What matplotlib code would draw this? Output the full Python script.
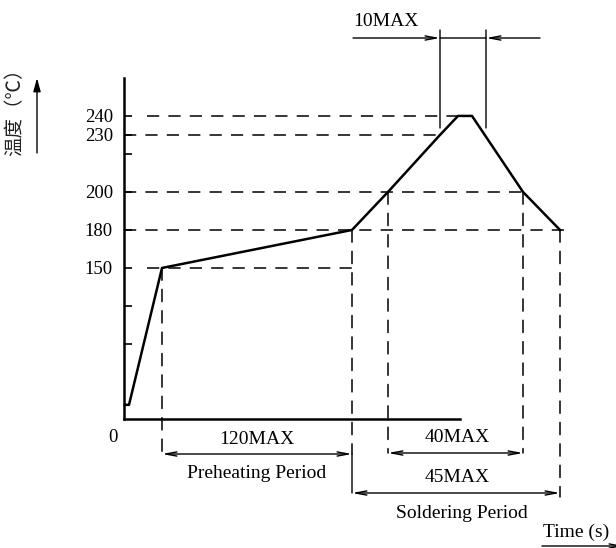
import numpy as np
import matplotlib.pyplot as plt

plt.rcParams['font.family'] = ['Liberation Serif', 'DejaVu Serif']

# reflow profile, x is schematic time (not to scale), y in deg C
time_pos = [1, 5, 38, 228, 264, 316, 334, 348, 399, 436]
temp = [17, 17, 150, 180, 200, 230, 240, 240, 200, 180]

major_ticks = [150, 180, 200, 230, 240]
minor_ticks = [90, 120, 220]

# dashed guide lines: (temperature, x start, x end)
h_guides = [(240, 23, 334), (230, 0, 316), (200, 0, 399), (180, 0, 446), (150, 23, 228)]
# dashed drop lines: (x, temperature, bottom in axes px)
v_guides = [(38, 150, -35), (228, 180, -35), (264, 200, -34), (399, 200, -34), (436, 180, -78)]

# temperature axis is drawn out of scale -> piecewise mapping
scale_t = [0, 90, 180, 400]
scale_h = [0, 75, 189, 607]


def fwd(t):
    return np.interp(t, scale_t, scale_h)


def inv(h):
    return np.interp(h, scale_h, scale_t)


fig = plt.figure(figsize=(6.16, 5.48), dpi=100)
ax = fig.add_axes([124 / 616, 129 / 548, 492 / 616, 419 / 548])
ax.set_yscale('function', functions=(fwd, inv))
ax.set_xlim(0, 492)
ax.set_ylim(0, 301)
ax.patch.set_visible(False)

for s in ['top', 'right']:
    ax.spines[s].set_visible(False)
ax.spines['left'].set_bounds(0, 260)
ax.spines['bottom'].set_bounds(0, 336)
for s in ['left', 'bottom']:
    ax.spines[s].set_linewidth(1.8)

ax.set_xticks([])
ax.set_yticks(major_ticks)
ax.set_yticks(minor_ticks, minor=True)
ax.set_yticklabels([str(v) for v in major_ticks])
ax.tick_params(axis='y', which='both', direction='in', length=6, width=1.2,
               labelsize=13.5, pad=8)

dash = (0, (8, 6))
pxy = ('data', 'axes pixels')

for t, x0, x1 in h_guides:
    ax.plot([x0, x1], [t, t], color='k', lw=1.1, ls=dash)

for x, t, b in v_guides:
    ax.annotate('', xy=(x, b), xycoords=pxy, xytext=(x, t), textcoords='data',
                arrowprops=dict(arrowstyle='-', ls=dash, lw=1.1, color='k',
                                shrinkA=0, shrinkB=0),
                annotation_clip=False)

ax.plot(time_pos, temp, color='k', lw=1.8, clip_on=False, solid_joinstyle='round')


def line(x0, y0, x1, y1, style='-'):
    ax.annotate('', xy=(x1, y1), xycoords=pxy, xytext=(x0, y0), textcoords=pxy,
                arrowprops=dict(arrowstyle=style, lw=1.0, color='k',
                                shrinkA=0, shrinkB=0),
                annotation_clip=False)


def label(x, y, s, ha='center'):
    ax.annotate(s, xy=(x, y), xycoords=pxy, ha=ha, va='center', fontsize=14,
                annotation_clip=False)


dbl = '<->,head_length=0.8,head_width=0.15'
one = '->,head_length=0.8,head_width=0.15'

# preheating
line(38, -35, 228, -35, dbl)
label(133, -21, '120MAX')
label(133, -54, 'Preheating Period')

# soldering
line(264, -34, 399, -34, dbl)
label(333, -18, '40MAX')
line(228, -35, 228, -74)
line(228, -74, 436, -74, dbl)
label(333, -58, '45MAX')
label(338, -94, 'Soldering Period')

# time arrow
label(452, -113, 'Time (s)')
line(418, -127, 500, -127, one)

# 10MAX at peak
line(316, 291, 316, 389)
line(362, 291, 362, 389)
line(229, 381, 316, 381, one)
line(316, 381, 362, 381)
line(416, 381, 362, 381, one)
label(229, 397, '10MAX', ha='left')

ax.annotate('0', xy=(0, 0), xytext=(-11, -18), textcoords='offset pixels',
            ha='center', va='center', fontsize=13.5)

# y label with arrow
fig.text(15 / 616, 441 / 548, '温度（℃）', rotation=90, ha='center', va='center',
         fontsize=14, family=['Noto Sans CJK SC', 'DejaVu Sans'], color='#222222')
ax.annotate('', xy=(37, 470), xycoords='figure pixels', xytext=(37, 395),
            textcoords='figure pixels',
            arrowprops=dict(arrowstyle='-|>,head_length=0.8,head_width=0.22',
                            lw=1.0, color='k', shrinkA=0, shrinkB=0),
            annotation_clip=False)

fig.savefig('out.png', dpi=100)
